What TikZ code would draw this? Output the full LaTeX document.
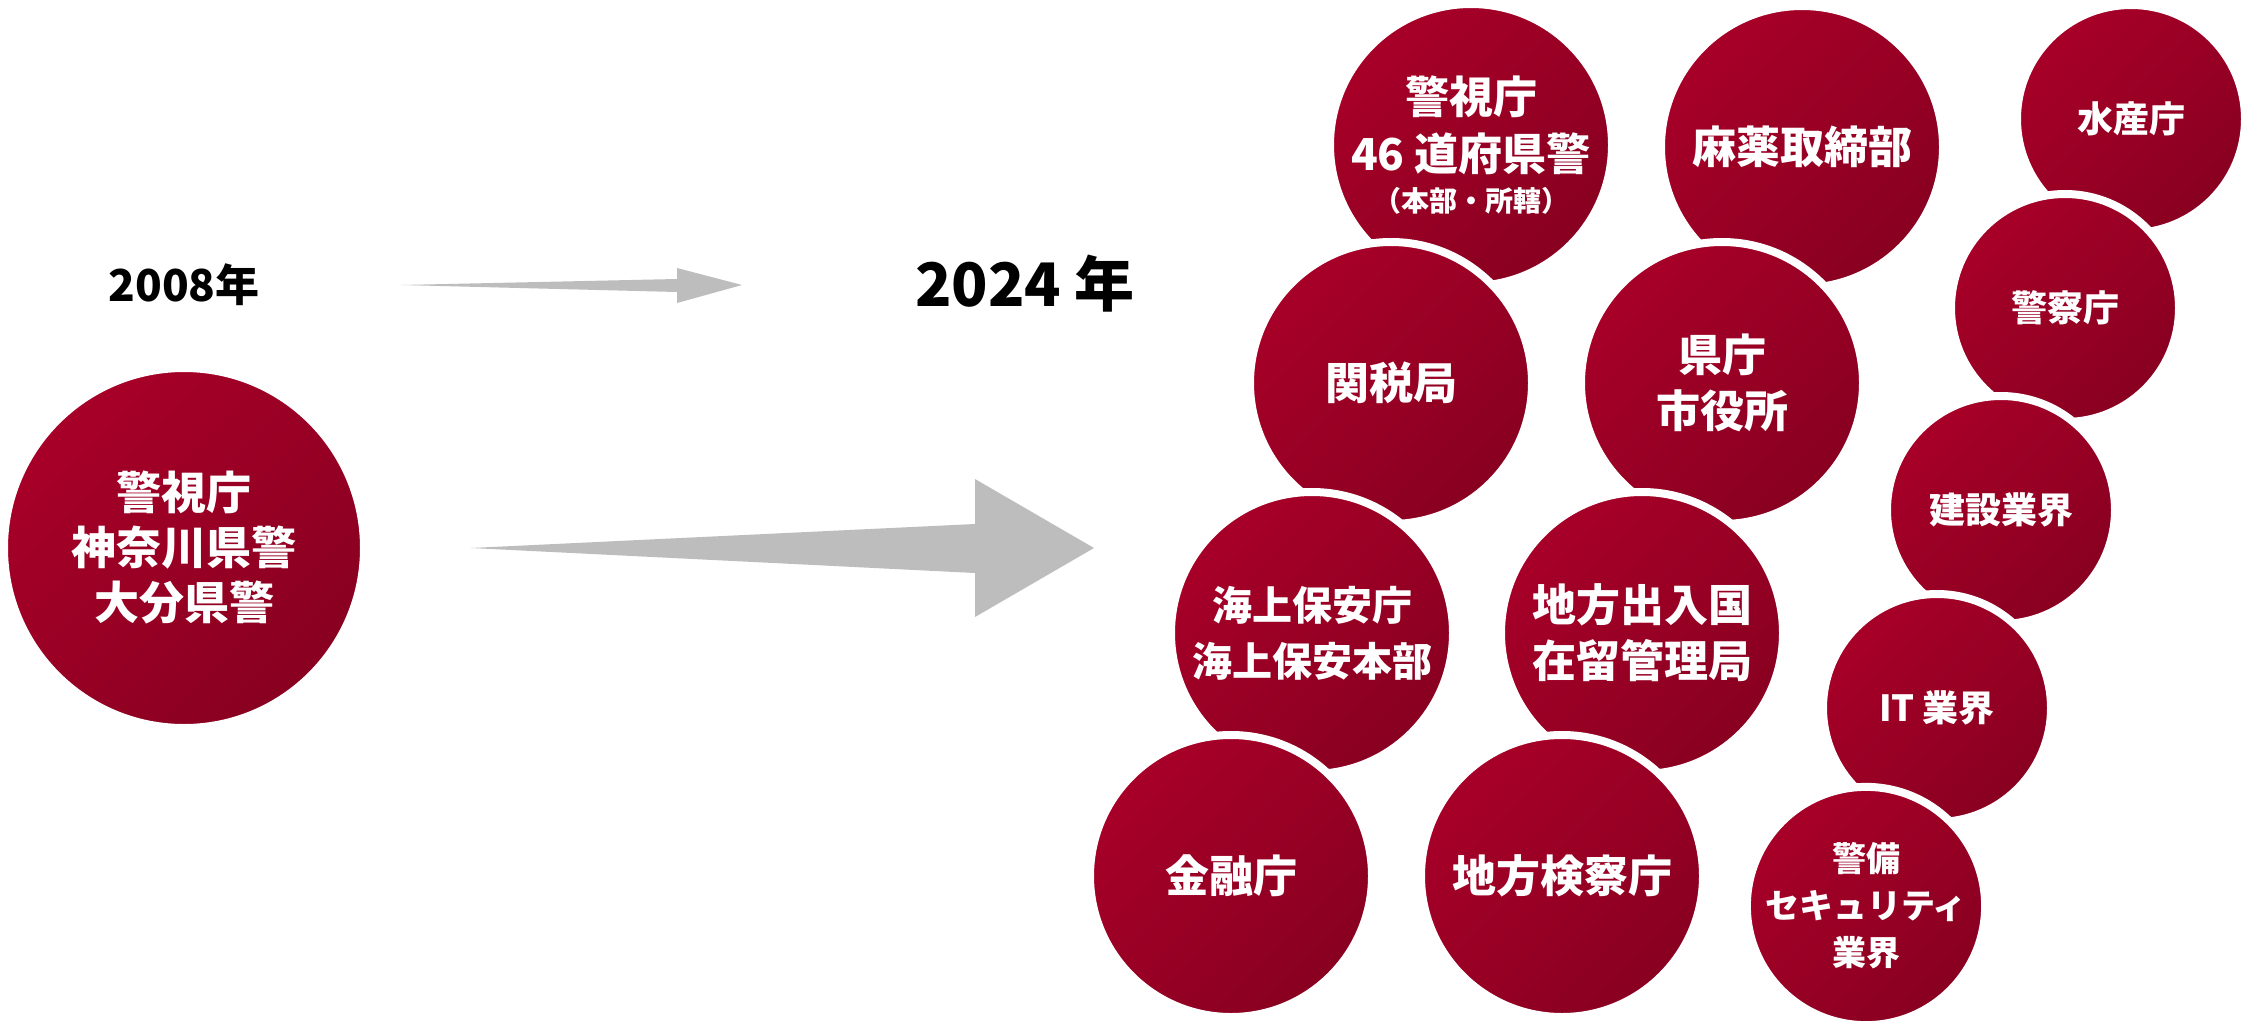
\documentclass[tikz,border=0pt]{standalone}
\usepackage{fontspec}
\setmainfont{Noto Sans CJK JP}
\definecolor{redA}{RGB}{168,0,40}
\definecolor{redB}{RGB}{136,0,32}
\definecolor{arrowgray}{RGB}{189,189,189}
\begin{document}
\begin{tikzpicture}[x=0.5pt,y=-0.5pt,
  bub/.style={circle, inner sep=0pt, minimum size=#1, draw=white, line width=4pt,
    top color=redA, bottom color=redB, shading angle=45,
    text=white, align=center, font=\bfseries\fontsize{22}{28}\selectfont},
  small/.style={font=\bfseries\fontsize{18}{24}\selectfont},
  yeartxt/.style={inner sep=0pt, text=black, font=\bfseries\fontsize{#1}{#1}\selectfont}]
\useasboundingbox[fill=white] (0,0) rectangle (2250,1023);

% year labels
\node[yeartxt=22] (y2008) at (184,285) {2008年};
\node[yeartxt=30] (y2024) at (1025,284) {2024 年};

% arrows
\coordinate (s0) at (401,285);
\coordinate (s1) at (742,285);
\fill[arrowgray] (s0) -- (677,279) -- (677,268) -- (s1) -- (677,303) -- (677,292) -- cycle;
\coordinate (b0) at (471,548);
\coordinate (b1) at (1094,548);
\fill[arrowgray] (b0) -- (975,524) -- (975,479) -- (b1) -- (975,617) -- (975,573) -- cycle;

% 2008 circle
\node[bub=180pt, font=\bfseries\fontsize{22.5}{27.5}\selectfont] (old) at (184,548) {警視庁\\神奈川県警\\大分県警};

% 2024 circles, column 1
\node[bub=141pt, font=\bfseries\fontsize{22}{28.5}\selectfont] (npa46) at (1471,145)
  {警視庁\\46 道府県警\\[-8pt]{\fontsize{14}{28.5}\selectfont （本部・所轄）}};
\node[bub=141pt] (kanzei) at (1391,383) {関税局};
\node[bub=141pt, font=\bfseries\fontsize{20}{28}\selectfont] (kaiho) at (1312,633) {海上保安庁\\海上保安本部};
\node[bub=141pt] (kinyu) at (1231,876) {金融庁};

% column 2
\node[bub=141pt] (mayaku) at (1802,147) {麻薬取締部};
\node[bub=141pt] (kencho) at (1722,383) {県庁\\市役所};
\node[bub=141pt] (nyukoku) at (1642,633) {地方出入国\\在留管理局};
\node[bub=141pt] (kensatsu) at (1562,876) {地方検察庁};

% column 3
\node[bub=114pt, small] (suisan) at (2131,119) {水産庁};
\node[bub=114pt, small] (keisatsu) at (2065,308) {警察庁};
\node[bub=114pt, small] (kensetsu) at (2001,510) {建設業界};
\node[bub=114pt, small] (it) at (1937,708) {IT 業界};
\node[bub=113pt, font=\bfseries\fontsize{17}{23.5}\selectfont] (keibi) at (1866,906) {警備\\セキュリティ\\業界};
\end{tikzpicture}
\end{document}
